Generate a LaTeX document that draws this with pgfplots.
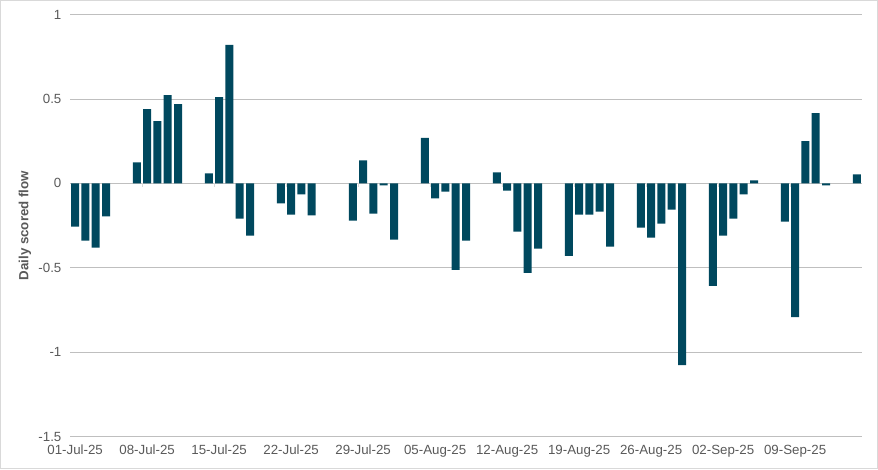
\documentclass[border=0pt]{standalone}
\usepackage{pgfplots}
\pgfplotsset{compat=1.18}
\usepackage{fontspec}
\setmainfont{Liberation Sans}
\definecolor{bar}{RGB}{0,72,94}
\definecolor{grid}{RGB}{217,217,217}
\definecolor{txt}{RGB}{89,89,89}
\begin{document}
\begin{tikzpicture}
\fontsize{13.3}{16}\selectfont
\useasboundingbox (0,0) rectangle (878pt,469pt);
\draw[grid, line width=1pt] (0.5pt,0.5pt) rectangle (877.5pt,468.5pt);
\begin{axis}[
  at={(70pt,32.5pt)}, anchor=south west,
  width=792pt, height=421.8pt, scale only axis,
  xmin=0.5, xmax=77.5, ymin=-1.5, ymax=1,
  ytick={-1.5,-1,-0.5,0,0.5,1},
  yticklabels={-1.5,-1,-0.5,0,0.5,1},
  xtick={1,8,15,22,29,36,43,50,57,64,71},
  xticklabels={01-Jul-25,08-Jul-25,15-Jul-25,22-Jul-25,29-Jul-25,05-Aug-25,12-Aug-25,19-Aug-25,26-Aug-25,02-Sep-25,09-Sep-25},
  axis line style={draw=none},
  major tick length=0pt,
  xmajorgrids=false, ymajorgrids=true,
  grid style={grid, line width=0.8pt},
  tick label style={font=\fontsize{13.3}{16}\selectfont, text=txt},
  xticklabel style={yshift=-4pt},
  yticklabel style={xshift=-4pt},
  ylabel={Daily scored flow},
  ylabel style={text=txt, font=\fontsize{13.3}{16}\selectfont\bfseries, at={(axis description cs:0,0.5)}, anchor=center, yshift=45pt},
  ybar, bar width=8pt, bar shift=0pt,
  clip=false,
]
\pgfplotsinvokeforeach{7.5,14.5,21.5,28.5,35.5,42.5,49.5,56.5,63.5,70.5}{
  \draw[grid, line width=0.8pt] (axis cs:#1,0) -- ([yshift=-4pt]axis cs:#1,0);
}
\addplot[fill=bar, draw=none] coordinates {
(1,-0.256) (2,-0.339) (3,-0.381) (4,-0.196)
(7,0.125) (8,0.440) (9,0.369) (10,0.524) (11,0.470)
(14,0.060) (15,0.512) (16,0.821) (17,-0.208) (18,-0.310)
(21,-0.119) (22,-0.185) (23,-0.065) (24,-0.190)
(28,-0.220) (29,0.137) (30,-0.179) (31,-0.012) (32,-0.333)
(35,0.270) (36,-0.089) (37,-0.048) (38,-0.512) (39,-0.339)
(42,0.065) (43,-0.042) (44,-0.286) (45,-0.530) (46,-0.387)
(49,-0.429) (50,-0.185) (51,-0.185) (52,-0.167) (53,-0.375)
(56,-0.262) (57,-0.321) (58,-0.238) (59,-0.155) (60,-1.077)
(63,-0.607) (64,-0.310) (65,-0.208) (66,-0.065) (67,0.018)
(70,-0.226) (71,-0.792) (72,0.250) (73,0.417) (74,-0.012)
(77,0.054)
};
\end{axis}
\end{tikzpicture}
\end{document}
